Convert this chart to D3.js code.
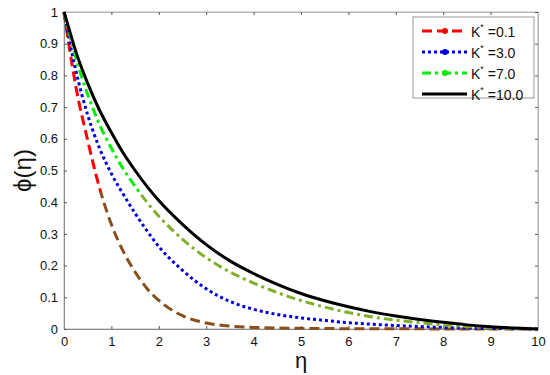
<!DOCTYPE html>
<html>
<head>
<meta charset="utf-8">
<script src="https://cdn.jsdelivr.net/npm/d3@7"></script>
<style>
  html, body { margin: 0; padding: 0; background: #fff; }
  svg { display: block; font-family: "Liberation Sans", Arial, sans-serif; }
</style>
</head>
<body>
<div id="chart"></div>
<script>
/* ── Data ───────────────────────────────────────────────────────────── */
const eta = [0, 0.1, 0.25, 0.5, 0.75, 1, 1.25, 1.5, 1.75, 2, 2.5, 3, 3.5, 4, 4.5, 5, 5.5, 6, 6.5, 7, 7.5, 8, 8.5, 9, 9.5, 10];

const phiK01  = [1, 0.90, 0.765, 0.595, 0.445, 0.33, 0.245, 0.18, 0.128, 0.09, 0.042, 0.019, 0.009, 0.005, 0.003, 0.002, 0.0015, 0.001, 0.001, 0.0005, 0.0005, 0, 0, 0, 0, 0];
const phiK30  = [1, 0.92, 0.815, 0.675, 0.57, 0.49, 0.425, 0.365, 0.31, 0.26, 0.185, 0.127, 0.087, 0.062, 0.046, 0.035, 0.027, 0.02, 0.015, 0.011, 0.008, 0.005, 0.003, 0.002, 0.001, 0];
const phiK70  = [1, 0.94, 0.855, 0.74, 0.645, 0.57, 0.505, 0.45, 0.40, 0.356, 0.283, 0.225, 0.18, 0.145, 0.115, 0.09, 0.069, 0.052, 0.038, 0.028, 0.02, 0.013, 0.008, 0.004, 0.002, 0];
const phiK100 = [1, 0.95, 0.875, 0.775, 0.69, 0.62, 0.555, 0.50, 0.45, 0.405, 0.33, 0.266, 0.215, 0.175, 0.141, 0.112, 0.089, 0.07, 0.054, 0.041, 0.03, 0.021, 0.013, 0.007, 0.003, 0];

const seriesLabels = ['0.1', '3.0', '7.0', '10.0'];
const xTicks = [0, 1, 2, 3, 4, 5, 6, 7, 8, 9, 10];
const yTicks = [0, 0.1, 0.2, 0.3, 0.4, 0.5, 0.6, 0.7, 0.8, 0.9, 1];

/* ── Layout ─────────────────────────────────────────────────────────── */
const W = 550, H = 375;
const margin = { left: 64, right: 12, top: 12, bottom: 46 };
const w = W - margin.left - margin.right;
const h = H - margin.top - margin.bottom;
const AXIS = '#8a8a8a';

const svg = d3.select('#chart').append('svg')
  .attr('width', W).attr('height', H)
  .attr('viewBox', `0 0 ${W} ${H}`);

const g = svg.append('g')
  .attr('transform', `translate(${margin.left},${margin.top})`);

const x = d3.scaleLinear().domain([0, 10]).range([0, w]);
const y = d3.scaleLinear().domain([0, 1]).range([h, 0]);

/* ── Colour-shift gradients (the lower part of two curves changes hue) ── */
const defs = svg.append('defs');
function splitGradient(id, top, bottom, atPhi) {
  const stop = 1 - atPhi;
  const gr = defs.append('linearGradient')
    .attr('id', id)
    .attr('gradientUnits', 'userSpaceOnUse')
    .attr('x1', 0).attr('x2', 0)
    .attr('y1', y(1)).attr('y2', y(0));
  gr.append('stop').attr('offset', 0).attr('stop-color', top);
  gr.append('stop').attr('offset', stop).attr('stop-color', top);
  gr.append('stop').attr('offset', stop).attr('stop-color', bottom);
  gr.append('stop').attr('offset', 1).attr('stop-color', bottom);
}
splitGradient('gRed', '#ff0000', '#8a4f1c', 0.432);
splitGradient('gGreen', '#00f000', '#80b02a', 0.432);

/* ── Frame and axes ─────────────────────────────────────────────────── */
g.append('rect')
  .attr('width', w).attr('height', h)
  .attr('fill', 'none').attr('stroke', '#b5b5b5').attr('stroke-width', 1);

const xAxis = g.append('g')
  .attr('transform', `translate(0,${h})`)
  .call(d3.axisBottom(x).tickValues(xTicks).tickFormat(d3.format('d')).tickSize(-3).tickPadding(8));
const yAxis = g.append('g')
  .call(d3.axisLeft(y).tickValues(yTicks).tickFormat(d => d === 0 || d === 1 ? d : d.toFixed(1)).tickSize(-3).tickPadding(6));
const xTop = g.append('g')
  .call(d3.axisTop(x).tickValues(xTicks).tickFormat('').tickSize(-3));
const yRight = g.append('g')
  .attr('transform', `translate(${w},0)`)
  .call(d3.axisRight(y).tickValues(yTicks).tickFormat('').tickSize(-3));

[xAxis, yAxis, xTop, yRight].forEach(sel => {
  sel.select('.domain').attr('stroke', AXIS);
  sel.selectAll('line').attr('stroke', '#555');
  sel.selectAll('text').attr('fill', '#111').attr('font-size', '13px')
    .attr('font-family', '"Liberation Sans", Arial, sans-serif');
});
xTop.select('.domain').attr('stroke', '#b5b5b5');
yRight.select('.domain').attr('stroke', '#b5b5b5');

/* ── Axis titles ────────────────────────────────────────────────────── */
svg.append('text')
  .attr('x', margin.left + x(5)).attr('y', 368)
  .attr('text-anchor', 'middle')
  .attr('font-size', '22px').attr('fill', '#111')
  .text('\u03B7');

svg.append('text')
  .attr('transform', `translate(31,${margin.top + y(0.5)}) rotate(-90)`)
  .attr('text-anchor', 'middle')
  .attr('font-size', '24px').attr('fill', '#111')
  .text('\u03D5(\u03B7)');

/* ── Curves ─────────────────────────────────────────────────────────── */
const series = [
  { vals: phiK01,  stroke: 'url(#gRed)',   legend: '#ff0000', width: 3, dash: '10,5',    marker: true },
  { vals: phiK30,  stroke: '#0000dd',      legend: '#0000dd', width: 3, dash: '3,3',     marker: true },
  { vals: phiK70,  stroke: 'url(#gGreen)', legend: '#00f000', width: 3, dash: '9,4,3,4', marker: true },
  { vals: phiK100, stroke: '#000000',      legend: '#000000', width: 3, dash: null,      marker: false }
];

const line = d3.line()
  .x(d => x(d[0])).y(d => y(d[1]))
  .curve(d3.curveMonotoneX);

series.forEach(s => {
  const pts = eta.map((e, i) => [e, s.vals[i]]);
  g.append('path').datum(pts)
    .attr('d', line)
    .attr('fill', 'none')
    .attr('stroke', s.stroke)
    .attr('stroke-width', s.width)
    .attr('stroke-dasharray', s.dash)
    .attr('stroke-linejoin', 'round');
});

/* ── Legend ─────────────────────────────────────────────────────────── */
const lg = svg.append('g').attr('transform', 'translate(413,17)');
lg.append('rect')
  .attr('width', 121).attr('height', 81)
  .attr('fill', '#fff').attr('stroke', '#999').attr('stroke-width', 1);

series.forEach((s, i) => {
  const ry = 14 + i * 21;
  lg.append('line')
    .attr('x1', 9).attr('x2', 54).attr('y1', ry).attr('y2', ry)
    .attr('stroke', s.legend).attr('stroke-width', 3)
    .attr('stroke-dasharray', s.dash);
  if (s.marker) {
    lg.append('circle').attr('cx', 32).attr('cy', ry).attr('r', 3).attr('fill', s.legend);
  }
  const t = lg.append('text')
    .attr('x', 58).attr('y', ry + 6)
    .attr('font-size', '14px').attr('fill', '#111');
  t.append('tspan').text('K');
  t.append('tspan').attr('dy', -7).attr('font-size', '9px').text('*');
  t.append('tspan').attr('dy', 7).text(' =' + seriesLabels[i]);
});
</script>
</body>
</html>
